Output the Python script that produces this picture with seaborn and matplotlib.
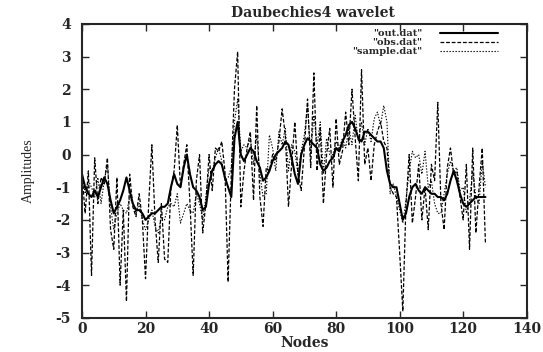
import numpy as np
import pandas as pd
import matplotlib
matplotlib.use("Agg")
import matplotlib.pyplot as plt
import seaborn as sns

nodes = list(range(128))

out_vals = [
    -0.6, -1.0, -1.2, -1.3, -1.1, -1.3, -1.0, -0.7, -0.9, -1.4,
    -1.8, -1.6, -1.4, -1.1, -0.7, -1.1, -1.5, -1.7, -1.7, -1.8,
    -2.0, -1.9, -1.8, -1.8, -1.7, -1.6, -1.6, -1.5, -1.0, -0.6,
    -0.9, -1.0, -0.4, 0.0, -0.6, -1.0, -1.1, -1.3, -1.7, -1.6,
    -0.9, -0.5, -0.3, -0.2, -0.3, -0.7, -1.0, -1.3, 0.5, 1.0,
    0.0, -0.2, 0.0, 0.2, 0.1, -0.2, -0.4, -0.8, -0.7, -0.5,
    -0.2, 0.0, 0.1, 0.2, 0.4, 0.3, -0.1, -0.6, -0.9, 0.0,
    0.3, 0.5, 0.4, 0.3, 0.2, -0.3, -0.5, -0.4, -0.2, -0.1,
    0.2, 0.1, 0.4, 0.6, 0.9, 1.0, 0.8, 0.5, 0.4, 0.7,
    0.7, 0.6, 0.5, 0.4, 0.4, 0.2, -0.5, -0.9, -1.0, -1.0,
    -1.5, -2.0, -1.8, -1.3, -1.0, -0.9, -1.1, -1.2, -1.0, -1.1,
    -1.2, -1.2, -1.3, -1.3, -1.4, -1.2, -0.8, -0.5, -0.8, -1.2,
    -1.5, -1.6, -1.5, -1.4, -1.3, -1.3, -1.3, -1.3,
]

obs_vals = [
    -0.6, -1.8, -0.5, -3.7, -0.1, -1.5, -0.7, -0.9, -0.1, -2.3,
    -2.9, -0.7, -4.0, -1.7, -4.5, -0.6, -1.6, -1.9, -1.2, -2.0,
    -3.8, -1.5, 0.3, -2.0, -3.3, -1.5, -3.2, -3.3, -1.0, -0.5,
    0.9, -1.0, -0.3, 0.3, -1.5, -3.7, -0.8, 0.0, -2.4, -1.5,
    0.0, -1.1, 0.2, 0.1, 0.4, -0.5, -3.9, -0.6, 2.0, 3.15,
    -1.6, -0.5, 0.2, 0.7, -1.4, 1.5, -1.3, -2.2, -0.4, -0.5,
    0.0, -0.2, 0.4, 1.4, 0.6, -1.6, -0.3, 1.0, -0.6, -1.1,
    0.2, 1.7, -0.4, 2.5, -0.5, 0.8, -1.5, 0.0, 0.8, -1.0,
    1.1, -0.3, 0.1, 1.3, 0.3, 2.0, 0.5, -0.8, 2.6, -0.3,
    0.2, -0.8, 0.3, 0.7, 1.0, 0.4, 0.2, -1.0, -1.2, -1.3,
    -3.0, -4.8, -1.5, 0.0, -2.1, -1.3, -0.3, -2.0, -1.0, -2.3,
    -0.3, -0.8, 1.6, -1.5, -2.3, -0.4, 0.2, -0.6, -0.5, -1.3,
    -2.0, -0.3, -2.9, 0.2, -2.4, -1.0, 0.2, -2.7,
]

sample_vals = [
    -0.5, -1.2, -0.8, -1.0, -1.3, -0.7, -1.5, -0.8, -0.3, -1.6,
    -2.3, -1.8, -1.5, -1.7, -1.8, -1.3, -1.5, -1.8, -1.5, -2.0,
    -2.3, -2.0, -1.7, -2.2, -2.4, -1.9, -2.0, -1.6, -1.5, -1.6,
    -1.2, -2.1, -1.8, -1.5, -1.7, -1.8, -1.2, -1.5, -2.0, -1.3,
    -0.4, -0.5, -0.1, 0.2, -0.2, -0.8, -0.7, -0.4, 1.0, 1.7,
    0.1, 0.3, 0.2, 0.5, -0.3, 0.6, -0.6, -1.3, -1.2, 0.6,
    0.2, -0.5, 0.7, 0.3, 0.8, -0.5, 0.3, 0.1, -0.6, 0.1,
    0.6, 1.5, 0.0, 1.2, 0.3, 1.0, -0.6, 0.5, 0.0, 0.0,
    0.4, 0.2, 0.5, 0.2, 0.8, 0.3, 1.2, 0.4, 1.0, 0.3,
    0.8, 0.4, 1.1, 1.3, 0.9, 1.5, 1.0, -1.2, -0.9, -1.3,
    -1.7, -2.1, -1.4, -0.5, 0.1, -0.1, 0.0, -0.6, 0.1, -1.0,
    -0.8, -1.5, -1.8, -1.8, -1.2, -0.6, -0.2, -0.5, -0.4, -1.1,
    -1.0, -1.8, -1.4, -0.5, -1.3, -1.5, -0.2, -1.0,
]

x_ticks = [0, 20, 40, 60, 80, 100, 120, 140]
y_ticks = [-5, -4, -3, -2, -1, 0, 1, 2, 3, 4]

sns.set_style("ticks")
plt.rcParams["font.family"] = ["DejaVu Serif"]

fig = plt.figure(figsize=(5.43, 3.52), dpi=100)
ax = fig.add_axes([0.151, 0.097, 0.819, 0.835])

df = pd.DataFrame({"Nodes": nodes, "out": out_vals, "obs": obs_vals, "sample": sample_vals})

sns.lineplot(data=df, x="Nodes", y="out", ax=ax, color="black", linewidth=1.5,
             label='"out.dat"')
sns.lineplot(data=df, x="Nodes", y="obs", ax=ax, color="black", linewidth=0.9,
             label='"obs.dat"')
sns.lineplot(data=df, x="Nodes", y="sample", ax=ax, color="black", linewidth=0.8,
             label='"sample.dat"')
lines = ax.get_lines()
lines[1].set_linestyle((0, (3, 1.5)))
lines[2].set_linestyle((0, (1.2, 1.5)))

ax.set_xlim(0, 140)
ax.set_ylim(-5, 4)
ax.set_xticks(x_ticks)
ax.set_yticks(y_ticks)
ax.set_xticklabels([str(t) for t in x_ticks], fontweight="bold", fontsize=10)
ax.set_yticklabels([str(t) for t in y_ticks], fontweight="bold", fontsize=10)
ax.tick_params(axis="y", direction="in", right=True, length=5, width=1, pad=8)
ax.tick_params(axis="x", direction="in", top=True, length=5, width=1, pad=3)
for s in ax.spines.values():
    s.set_linewidth(1.5)
    s.set_visible(True)

ax.set_xlabel("Nodes", fontweight="bold", fontsize=10, labelpad=0)
ax.set_ylabel("Amplitudes", fontsize=10, family="Liberation Serif", labelpad=15)
ax.set_title("Daubechies4 wavelet", fontweight="bold", fontsize=10, pad=5, x=0.52)

leg = ax.legend(loc="upper right", bbox_to_anchor=(0.945, 0.995), frameon=False,
                markerfirst=False, prop={"weight": "bold", "size": 7},
                handlelength=6.0, borderaxespad=0.0, labelspacing=0.0,
                handletextpad=1.8)
for t in leg.get_texts():
    t.set_ha("right")

fig.savefig("out.png", dpi=100)
